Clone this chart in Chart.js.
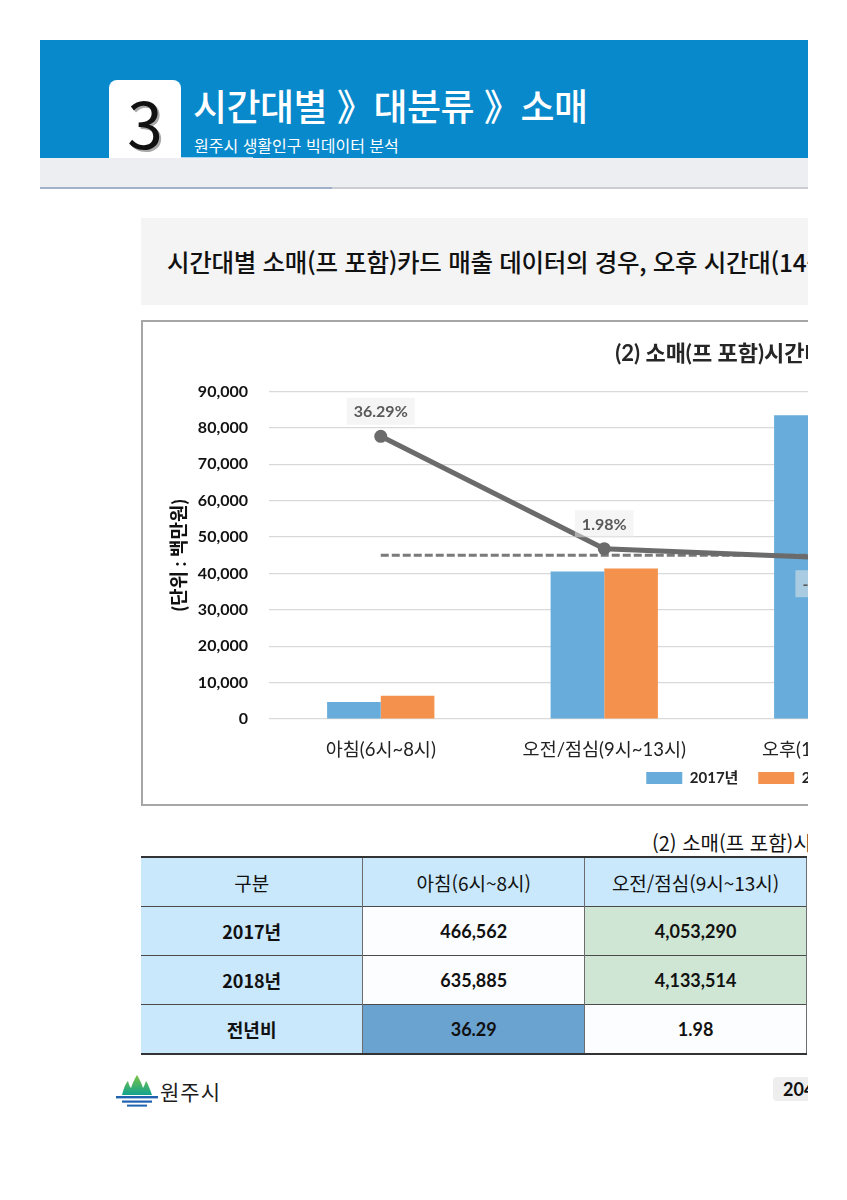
<!DOCTYPE html>
<html lang="ko">
<head>
<meta charset="utf-8">
<title>시간대별 소매 카드 매출</title>
<script src="https://cdn.jsdelivr.net/npm/chart.js@4.4.1/dist/chart.umd.min.js"></script>
<style>
  html, body { margin: 0; padding: 0; background: #fff; }
  body { width: 847px; height: 1200px; position: relative; overflow: hidden; font-family: 'Noto Sans CJK KR', sans-serif; }
  #page { position: absolute; left: 40px; top: 40px; width: 768px; height: 1160px; overflow: hidden; background: #fff; }
  .abs { position: absolute; }

  /* header */
  #band { left: 0; top: 0; width: 768px; height: 118px; background: #0789cb; }
  #tab { left: 69px; top: 40px; width: 72px; height: 78px; background: #fff; border-radius: 8px 8px 0 0; }
  #tabnum { left: 0; top: 8px; width: 72px; text-align: center; font-size: 64px; line-height: 66px; font-weight: 400; color: #111; text-shadow: 2px 2px 0 #a8a8a8; }
  #htitle { left: 153px; top: 43px; font-size: 37px; line-height: 44px; font-weight: 500; color: #fff; white-space: nowrap; letter-spacing: -0.5px; }
  #hsub { left: 154px; top: 95px; font-size: 16px; line-height: 20px; color: #fff; white-space: nowrap; }
  #hline { left: 141px; top: 117px; width: 72px; height: 1px; background: #a9d3ef; }
  #gband { left: 0; top: 118px; width: 768px; height: 29px; background: #eceef2; }
  #gline { left: 0; top: 147px; width: 768px; height: 2px; background: linear-gradient(90deg, #9fb1c8 0, #9fb1c8 38%, #c9ccd1 38%, #c9ccd1 100%); }

  /* summary box */
  #summary { left: 101px; top: 178px; width: 900px; height: 87px; background: #f4f4f4; }
  #summary span { position: absolute; left: 26px; top: 0; line-height: 87px; font-size: 24.5px; font-weight: 500; color: #111; white-space: nowrap; letter-spacing: -0.3px; }

  /* chart frame */
  #frame { left: 101px; top: 280px; width: 1203px; height: 486px; box-sizing: border-box; border: 2px solid #a6a6a6; background: #fff; }
  #frame canvas { display: block; }

  /* table */
  #ttitle { left: 612px; top: 790px; font-size: 20px; line-height: 26px; color: #111; white-space: nowrap; }
  #tbl { left: 101px; top: 816px; border-collapse: collapse; table-layout: fixed; width: 666px; }
  #tbl td { height: 48px; padding: 0; text-align: center; font-size: 18px; color: #111; border-top: 1px solid #4a4a4a; border-left: 1px solid #6d6d6d; }
  #tbl tr:first-child td { border-top: 2px solid #333; font-weight: 400; font-size: 19px; background: #c9e8fb; height: 48px; }
  #tbl tr:last-child td { border-bottom: 2px solid #333; }
  #tbl td:first-child { border-left: none; background: #c9e8fb; }
  #tbl td:last-child { border-right: 1px solid #6d6d6d; }
  #tbl td.num { font-family: Lato, 'Noto Sans CJK KR', sans-serif; font-weight: 700; }
  #tbl td.lbl { font-weight: 700; }
  #tbl td.white { background: #fcfdfe; }
  #tbl td.green { background: #cfe6d4; }
  #tbl td.blue { background: #6aa2d0; }

  /* footer */
  #logo { left: 74px; top: 1033px; }
  #city { left: 120px; top: 1036px; font-size: 21px; line-height: 30px; font-weight: 400; color: #1d1d1d; letter-spacing: 1px; }
  #pnum { left: 733px; top: 1037px; width: 60px; height: 24px; background: #eeeeee; border-radius: 4px; }
  #pnum span { position: absolute; left: 10px; top: 0; line-height: 24px; font-family: Lato, sans-serif; font-weight: 700; font-size: 18px; color: #111; }
</style>
</head>
<body>
<div id="page">
  <div id="band" class="abs"></div>
  <div id="tab" class="abs"><div id="tabnum" class="abs">3</div></div>
  <div id="hline" class="abs"></div>
  <div id="htitle" class="abs">시간대별 》대분류 》소매</div>
  <div id="hsub" class="abs">원주시 생활인구 빅데이터 분석</div>
  <div id="gband" class="abs"></div>
  <div id="gline" class="abs"></div>

  <div id="summary" class="abs"><span>시간대별 소매(프 포함)카드 매출 데이터의 경우, 오후 시간대(14~17시)</span></div>

  <div id="frame" class="abs"><canvas id="chart" width="1199" height="482"></canvas></div>

  <div id="ttitle" class="abs">(2) 소매(프 포함)시간대별 매출</div>
  <table id="tbl" class="abs"></table>

  <svg id="logo" class="abs" width="46" height="40" viewBox="0 0 46 40">
    <defs>
      <linearGradient id="mt" x1="0" y1="0" x2="0" y2="1">
        <stop offset="0" stop-color="#7cc242"/>
        <stop offset="1" stop-color="#11a38f"/>
      </linearGradient>
    </defs>
    <path d="M8 22 C10 14 12 10 14 8 C15 12 16 14 17 15 C19 9 21 5 23 2 C25 5 27 9 29 15 C30 13 31 11 32 8 C34 11 36 16 38 22 Z" fill="url(#mt)"/>
    <rect x="2" y="23" width="42" height="2.4" fill="#1f63b0"/>
    <rect x="8" y="27.5" width="30" height="2.2" fill="#1f63b0"/>
    <rect x="13" y="31.6" width="20" height="2" fill="#1f63b0"/>
  </svg>
  <div id="city" class="abs">원주시</div>
  <div id="pnum" class="abs"><span>204</span></div>
</div>

<script>
// chart data (단위 : 백만원)
const categories = ['아침(6시~8시)', '오전/점심(9시~13시)', '오후(14시~17시)']
const sales2017 = [4665.62, 40532.90, 83420]
const sales2018 = [6358.85, 41335.14, 82790]
const yoyRate = [36.29, 1.98, -0.76]
const zeroLine = [0, 0, 0]
const seriesNames = ['2017년', '2018년']

// table data (values as printed in the table)
const tableHead = ['구분', '아침(6시~8시)', '오전/점심(9시~13시)']
const table2017 = ['466,562', '4,053,290']
const table2018 = ['635,885', '4,133,514']
const tableYoy = ['36.29', '1.98']

// build the table
const tbl = document.querySelector('#tbl')
const addRow = (cells, classes) => {
    const tr = document.createElement('tr')
    cells.forEach((text, i) => {
        const td = document.createElement('td')
        td.innerText = text
        if (classes && classes[i]) td.className = classes[i]
        tr.appendChild(td)
    })
    tbl.appendChild(tr)
}
addRow(tableHead)
addRow(['2017년', ...table2017], ['lbl', 'num white', 'num green'])
addRow(['2018년', ...table2018], ['lbl', 'num white', 'num green'])
addRow(['전년비', ...tableYoy], ['lbl', 'num blue', 'num white'])

const FONT = "Lato, 'Noto Sans CJK KR', sans-serif"

// percentage labels on the line points
const pctLabels = {
    id: 'pctLabels',
    afterDatasetsDraw(chart) {
        const meta = chart.getDatasetMeta(2)
        const ctx = chart.ctx
        ctx.save()
        ctx.font = `bold 16px ${FONT}`
        ctx.textAlign = 'center'
        ctx.textBaseline = 'middle'
        meta.data.forEach((pt, i) => {
            const v = yoyRate[i]
            const text = v.toFixed(2) + '%'
            const w = ctx.measureText(text).width + 14
            const h = 27
            const cy = v >= 0 ? pt.y - 25 : pt.y + 26
            ctx.fillStyle = 'rgba(236,236,236,0.5)'
            ctx.fillRect(pt.x - w / 2, cy - h / 2, w, h)
            ctx.fillStyle = '#595959'
            ctx.fillText(text, pt.x, cy + 1)
        })
        ctx.restore()
    }
}

const ctx = document.querySelector('#chart').getContext('2d')
const chart = new Chart(ctx, {
    type: 'bar',
    data: {
        labels: categories,
        datasets: [
            { label: seriesNames[0], data: sales2017, backgroundColor: '#67acda', order: 2,
              categoryPercentage: 0.48, barPercentage: 1.0 },
            { label: seriesNames[1], data: sales2018, backgroundColor: '#f4924d', order: 3,
              categoryPercentage: 0.48, barPercentage: 1.0 },
            { type: 'line', label: '전년비', data: yoyRate, yAxisID: 'y1', order: 0,
              borderColor: '#6b6b6b', borderWidth: 5, tension: 0,
              pointRadius: 6.5, pointBackgroundColor: '#6b6b6b', pointBorderWidth: 0 },
            { type: 'line', label: '기준', data: zeroLine, yAxisID: 'y1', order: 1,
              borderColor: '#7a7a7a', borderWidth: 3, borderDash: [8, 3], pointRadius: 0 }
        ]
    },
    options: {
        responsive: false,
        animation: false,
        layout: { padding: { left: 21, right: 0, top: 0, bottom: 8.5 } },
        plugins: {
            title: {
                display: true,
                text: '(2) 소매(프 포함)시간대별 매출',
                color: '#262626',
                font: { family: FONT, size: 22, weight: 'bold' },
                padding: { top: 19, bottom: 24 }
            },
            legend: {
                position: 'bottom',
                labels: {
                    boxWidth: 36, boxHeight: 12, padding: 10.5,
                    color: '#222',
                    font: { family: FONT, size: 15, weight: 'bold' },
                    // only the two bar series, with a little trailing room
                    generateLabels: (c) => Chart.defaults.plugins.legend.labels.generateLabels(c)
                        .filter((item) => item.datasetIndex < 2)
                        .map((item) => ({ ...item, text: item.text + '\u2002\u2009' }))
                }
            },
            tooltip: { enabled: false }
        },
        scales: {
            x: {
                grid: { display: false, drawTicks: false },
                border: { display: false },
                ticks: { padding: 20, color: '#222', font: { family: FONT, size: 18.5 } },
                afterFit: (scale) => { scale.height = 41 }
            },
            y: {
                min: 0, max: 90000,
                ticks: {
                    stepSize: 10000, padding: 21, color: '#111',
                    font: { family: FONT, size: 16, weight: 'bold' },
                    callback: (v) => v.toLocaleString('en-US')
                },
                grid: { color: '#d9d9d9', lineWidth: 1.2, drawTicks: false },
                border: { display: false },
                title: {
                    display: true, text: '(단위 : 백만원)', color: '#111',
                    font: { family: FONT, size: 19, weight: 'bold' }
                },
                afterFit: (scale) => { scale.width = 105 }
            },
            y1: {
                position: 'right',
                min: -50, max: 50,
                ticks: { display: false },
                grid: { display: false, drawTicks: false },
                border: { display: false },
                afterFit: (scale) => { scale.width = 402.5 }
            }
        }
    },
    plugins: [pctLabels]
})
</script>
</body>
</html>
